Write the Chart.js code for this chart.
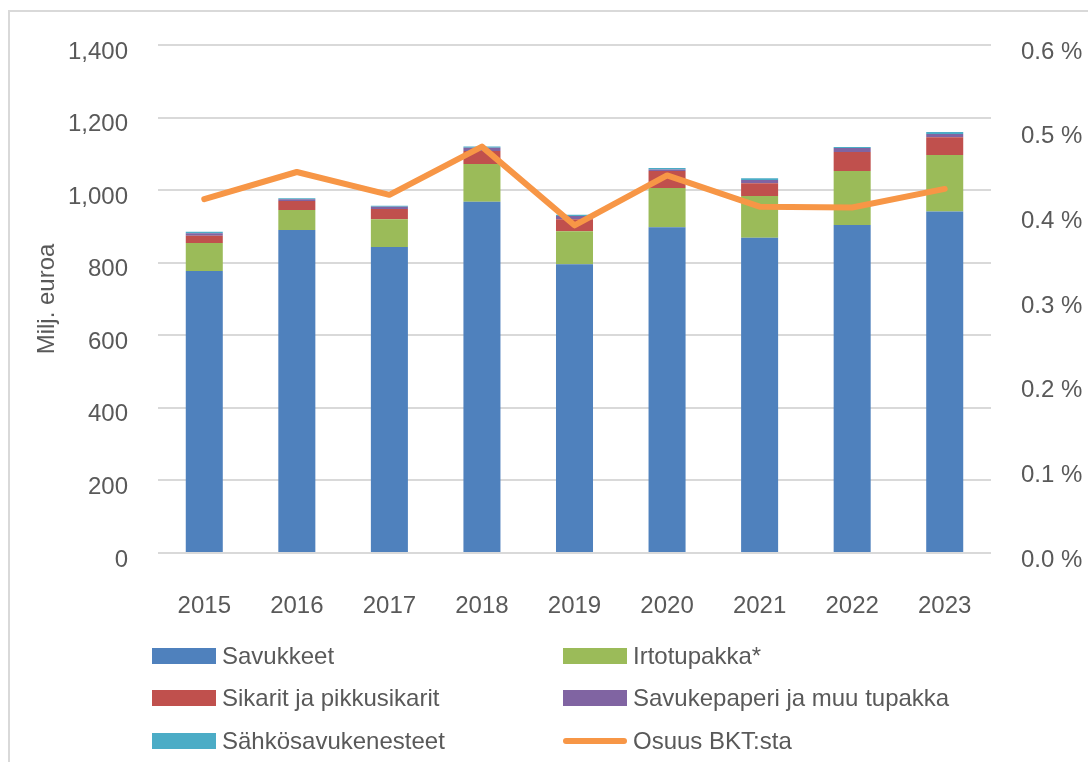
<!DOCTYPE html>
<html>
<head>
<meta charset="utf-8">
<script src="https://cdn.jsdelivr.net/npm/chart.js@4"></script>
<style>
  html, body { margin: 0; padding: 0; background: #fff; }
  #wrap { position: relative; width: 1088px; height: 762px; overflow: hidden; font-family: "Liberation Sans", Arial, sans-serif; }
  #frame { position: absolute; left: 8px; top: 10px; width: 1200px; height: 900px; border-left: 2px solid #d9d9d9; border-top: 2px solid #d9d9d9; }
  #chart { position: absolute; left: 0; top: 0; }
  .leg { position: absolute; height: 30px; display: flex; align-items: center; font-size: 24px; color: #595959; white-space: nowrap; }
  .sw { width: 64px; height: 16px; margin-right: 6px; }
  .ln { width: 64px; height: 6px; border-radius: 3px; margin-right: 6px; }
</style>
</head>
<body>
<div id="wrap">
  <div id="frame"></div>
  <canvas id="chart" width="1088" height="762"></canvas>
  <div id="legend"></div>
</div>
<script>
const years = ['2015', '2016', '2017', '2018', '2019', '2020', '2021', '2022', '2023'];
const savukkeet = [777, 890, 843, 968, 796, 898, 869, 904, 941];
const irtotupakka = [77, 55, 77, 104, 91, 108, 115, 149, 156];
const sikarit = [20, 25, 28, 36, 33, 47, 35, 52, 49];
const savukepaperi = [7, 5, 6, 9, 9, 4, 9, 11, 9];
const sahkosavukkeet = [4, 3, 3, 3, 3, 4, 5, 3, 5];
const osuusBkt = [0.418, 0.450, 0.423, 0.480, 0.387, 0.446, 0.409, 0.408, 0.430];

const txt = '#595959';
const font = { family: '"Liberation Sans", Arial, sans-serif', size: 24 };

const bar = (label, data, color) => ({
    type: 'bar', label: label, data: data, backgroundColor: color,
    yAxisID: 'y', order: 1, barPercentage: 0.4, categoryPercentage: 1
});

const datasets = [
    bar('Savukkeet', savukkeet, '#4F81BD'),
    bar('Irtotupakka*', irtotupakka, '#9BBB59'),
    bar('Sikarit ja pikkusikarit', sikarit, '#C0504D'),
    bar('Savukepaperi ja muu tupakka', savukepaperi, '#8064A2'),
    bar('Sähkösavukenesteet', sahkosavukkeet, '#4BACC6'),
    {
        type: 'line', label: 'Osuus BKT:sta', data: osuusBkt, yAxisID: 'y1', order: 0,
        borderColor: '#F79646', backgroundColor: '#F79646', borderWidth: 6,
        pointRadius: 0, tension: 0, borderCapStyle: 'round', borderJoinStyle: 'round'
    }
];

const chart = new Chart(document.getElementById('chart').getContext('2d'), {
    data: { labels: years, datasets: datasets },
    options: {
        responsive: false, animation: false,
        layout: { padding: { top: 45, left: 0, right: 0, bottom: 0 } },
        plugins: { legend: { display: false }, tooltip: { enabled: false } },
        scales: {
            x: {
                stacked: true,
                grid: { display: false },
                border: { display: false },
                ticks: { color: txt, font: font, padding: 31, maxRotation: 0 },
                afterFit: s => { s.height = 209; }
            },
            y: {
                stacked: true, position: 'left', min: 0, max: 1400,
                grid: { color: '#d9d9d9', lineWidth: 2, drawTicks: false },
                border: { display: false },
                ticks: { stepSize: 200, color: txt, font: font, padding: 30, labelOffset: 7,
                    callback: v => v.toLocaleString('en-US') },
                title: { display: true, text: 'Milj. euroa', color: txt, font: font, padding: { top: 33, bottom: 0 } },
                afterFit: s => { s.width = 158; }
            },
            y1: {
                position: 'right', min: 0, max: 0.6,
                grid: { display: false, drawTicks: false },
                border: { display: false },
                ticks: { stepSize: 0.1, color: txt, font: font, padding: 30, labelOffset: 7,
                    callback: v => v.toFixed(1) + ' %' },
                afterFit: s => { s.width = 97; }
            }
        }
    }
});

// legend in two columns, like the original
const legendPos = [[152, 641], [563, 641], [152, 683], [563, 683], [152, 726], [563, 726]];
const legend = document.getElementById('legend');
chart.data.datasets.forEach((ds, k) => {
    const item = document.createElement('div');
    item.className = 'leg';
    item.style.left = legendPos[k][0] + 'px';
    item.style.top = legendPos[k][1] + 'px';
    const mark = document.createElement('div');
    if (ds.type === 'line') {
        mark.className = 'ln';
        mark.style.background = ds.borderColor;
    } else {
        mark.className = 'sw';
        mark.style.background = ds.backgroundColor;
    }
    item.appendChild(mark);
    const span = document.createElement('span');
    span.textContent = ds.label;
    item.appendChild(span);
    legend.appendChild(item);
});
</script>
</body>
</html>
